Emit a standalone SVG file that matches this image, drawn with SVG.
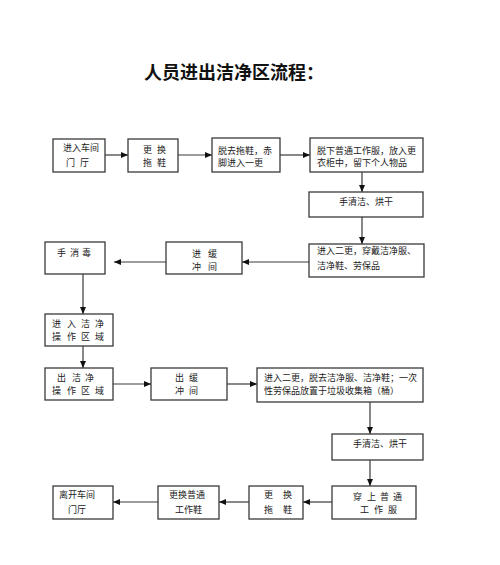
<svg xmlns="http://www.w3.org/2000/svg" width="500" height="565" viewBox="0 0 500 565">
<style>
.box{fill:#fff;stroke:#3a3a3a;stroke-width:1.3}
.t{font-family:"Liberation Serif","Noto Sans CJK SC",serif;font-size:9px;fill:#222}
.c{text-anchor:middle}
.ln{stroke:#3a3a3a;stroke-width:1.2;fill:none;marker-end:url(#ah)}
.title{font-family:"Noto Sans CJK SC",sans-serif;font-size:18px;font-weight:bold;fill:#111}
</style>
<defs>
<marker id="ah" markerUnits="userSpaceOnUse" markerWidth="7" markerHeight="6" refX="7" refY="3" orient="auto">
<path d="M0,0 L7,3 L0,6 Z" fill="#111"/>
</marker>
</defs>
<rect width="500" height="565" fill="#fff"/>
<text class="title" x="144" y="79">人员进出洁净区流程：</text>

<g id="connectors">
<line class="ln" x1="105" y1="155" x2="128" y2="155"/>
<line class="ln" x1="178" y1="155" x2="212" y2="155"/>
<line class="ln" x1="280" y1="155" x2="310" y2="155"/>
<line class="ln" x1="362" y1="172" x2="362" y2="192"/>
<line class="ln" x1="362" y1="217" x2="362" y2="244"/>
<line class="ln" x1="309" y1="262" x2="242" y2="262"/>
<line class="ln" x1="166" y1="262" x2="114" y2="262"/>
<line class="ln" x1="83" y1="274" x2="83" y2="314"/>
<line class="ln" x1="83" y1="346" x2="83" y2="368"/>
<line class="ln" x1="113" y1="384" x2="151" y2="384"/>
<line class="ln" x1="227" y1="384" x2="257" y2="384"/>
<line class="ln" x1="370" y1="402" x2="370" y2="434"/>
<line class="ln" x1="370" y1="460" x2="370" y2="486"/>
<line class="ln" x1="332" y1="502" x2="303" y2="502"/>
<line class="ln" x1="249" y1="502" x2="219" y2="502"/>
<line class="ln" x1="158" y1="502" x2="113" y2="502"/>
</g>

<g id="n1"><rect class="box" x="53" y="139" width="52" height="33"/>
<text class="t" x="63" y="151">进入车间</text><text class="t" x="66 80" y="166">门厅</text></g>
<g id="n2"><rect class="box" x="128" y="139" width="50" height="33"/>
<text class="t" x="143 157" y="153">更换</text><text class="t" x="143 157" y="166">拖鞋</text></g>
<g id="n3"><rect class="box" x="212" y="138" width="68" height="34"/>
<text class="t" x="218" y="154">脱去拖鞋，赤</text><text class="t" x="218" y="166">脚进入一更</text></g>
<g id="n4"><rect class="box" x="310" y="138" width="113" height="34"/>
<text class="t" x="317" y="154">脱下普通工作服，放入更</text><text class="t" x="317" y="166">衣柜中，留下个人物品</text></g>
<g id="n5"><rect class="box" x="309" y="192" width="114" height="25"/>
<text class="t" x="339" y="205">手清洁、烘干</text></g>
<g id="n6"><rect class="box" x="309" y="244" width="115" height="33"/>
<text class="t" x="317" y="254">进入二更，穿戴洁净服、</text><text class="t" x="317" y="269">洁净鞋、劳保品</text></g>
<g id="n7"><rect class="box" x="166" y="242" width="76" height="32"/>
<text class="t" x="192 208" y="257">进缓</text><text class="t" x="192 208" y="270">冲间</text></g>
<g id="n8"><rect class="box" x="45" y="242" width="60" height="32"/>
<text class="t" x="57 70 82" y="256">手消毒</text></g>
<g id="n9"><rect class="box" x="45" y="314" width="68" height="32"/>
<text class="t" x="52 67 81 95" y="327">进入洁净</text><text class="t" x="52 67 81 95" y="340">操作区域</text></g>
<g id="n10"><rect class="box" x="45" y="368" width="68" height="32"/>
<text class="t" x="57 72 85" y="381">出洁净</text><text class="t" x="52 67 81 95" y="394">操作区域</text></g>
<g id="n11"><rect class="box" x="151" y="368" width="76" height="32"/>
<text class="t" x="175 189" y="381">出缓</text><text class="t" x="175 189" y="394">冲间</text></g>
<g id="n12"><rect class="box" x="257" y="368" width="166" height="34"/>
<text class="t" x="264" y="381">进入二更，脱去洁净服、洁净鞋；一次</text><text class="t" x="264" y="394">性劳保品放置于垃圾收集箱（桶）</text></g>
<g id="n13"><rect class="box" x="332" y="434" width="91" height="26"/>
<text class="t" x="353" y="447">手清洁、烘干</text></g>
<g id="n14"><rect class="box" x="332" y="486" width="84" height="33"/>
<text class="t" x="353 367 380 393" y="500">穿上普通</text><text class="t" x="360 374 388" y="513">工作服</text></g>
<g id="n15"><rect class="box" x="249" y="486" width="54" height="33"/>
<text class="t" x="264 283" y="498">更换</text><text class="t" x="264 283" y="513">拖鞋</text></g>
<g id="n16"><rect class="box" x="158" y="486" width="61" height="33"/>
<text class="t" x="169" y="498">更换普通</text><text class="t" x="175" y="513">工作鞋</text></g>
<g id="n17"><rect class="box" x="53" y="486" width="60" height="33"/>
<text class="t" x="59" y="498">离开车间</text><text class="t" x="68" y="513">门厅</text></g>
</svg>
